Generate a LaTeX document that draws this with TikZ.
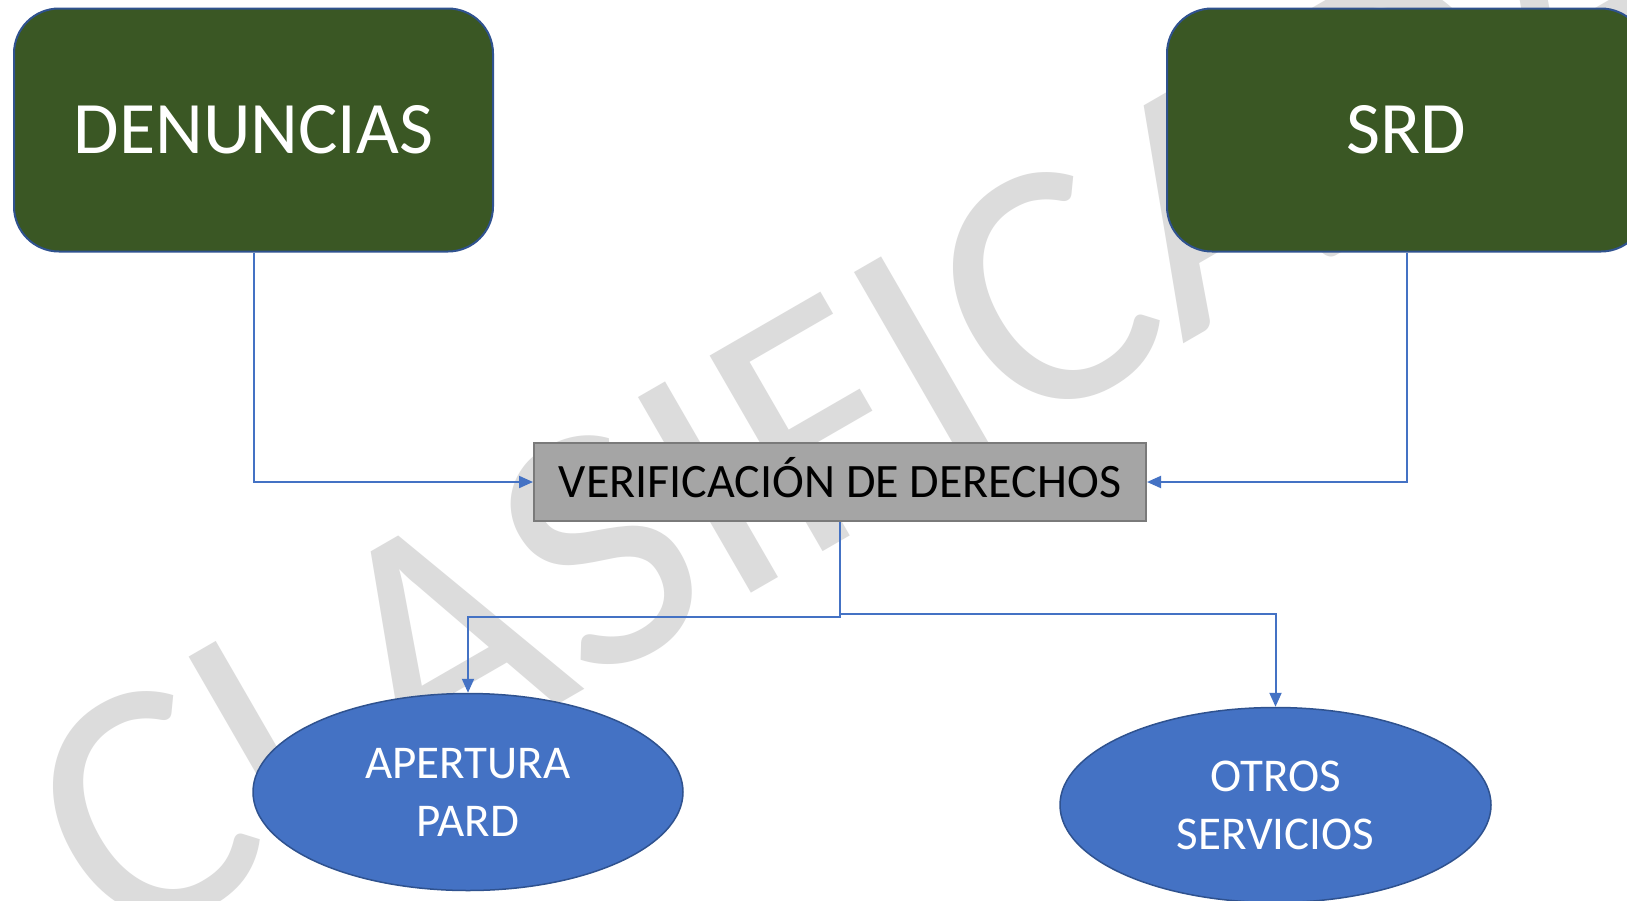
\documentclass[tikz,border=0pt]{standalone}
\usepackage{fontspec}
\setmainfont{Carlito}
\usetikzlibrary{arrows.meta,shapes.geometric}
\definecolor{boxgreen}{HTML}{3A5724}
\definecolor{edgeblue}{HTML}{2F528F}
\definecolor{linkblue}{HTML}{4472C4}
\definecolor{verfill}{HTML}{A5A5A5}
\definecolor{veredge}{HTML}{7A7A7A}
\definecolor{wmgray}{HTML}{DCDCDC}
\tikzset{
  srcbox/.style={draw=edgeblue, line width=2pt, fill=boxgreen, rounded corners=45pt,
    minimum width=479pt, minimum height=243pt, inner sep=0pt, text=white,
    font=\fontsize{74}{80}\selectfont, text height=47.5pt, text depth=0pt},
  verbox/.style={draw=veredge, line width=2pt, fill=verfill, minimum width=612pt,
    minimum height=78pt, inner sep=0pt, text=black,
    font=\fontsize{48}{52}\selectfont, text height=31pt, text depth=0pt},
  outell/.style={ellipse, draw=edgeblue, line width=1.5pt, fill=linkblue,
    minimum width=430pt, minimum height=197pt, inner sep=0pt, text=white,
    align=center, font=\fontsize{47}{58}\selectfont},
  conn/.style={draw=linkblue, line width=2pt, -{Triangle[length=14pt,width=12pt]}},
  wmark/.style={text=wmgray, font=\fontsize{352}{352}\selectfont, inner sep=0pt}
}
\begin{document}
\begin{tikzpicture}[x=1pt,y=-1pt]
\useasboundingbox (0,0) rectangle (1627,900);
\clip (0,0) rectangle (1627,900);
\fill[white] (0,0) rectangle (1627,900);
\node[wmark, rotate=30, anchor=base west] (wm) at (119,958) {CLASIFICADA};
\node[srcbox] (den) at (253.5,130) {DENUNCIAS};
\node[srcbox] (srd) at (1406.5,130) {SRD};
\node[verbox] (ver) at (840,482) {VERIFICACIÓN DE DERECHOS};
\node[outell] (ap) at (468,792) {APERTURA\\PARD};
\node[outell, minimum width=431pt, minimum height=195pt] (ot) at (1275.5,805) {OTROS\\SERVICIOS};
\draw[conn] (den.south) |- (ver.west);
\draw[conn] (srd.south) |- (ver.east);
\draw[conn] (ver.south) -- ++(0,95) -| (ap.north);
\draw[conn] (ver.south) -- ++(0,92) -| (ot.north);
\end{tikzpicture}
\end{document}
